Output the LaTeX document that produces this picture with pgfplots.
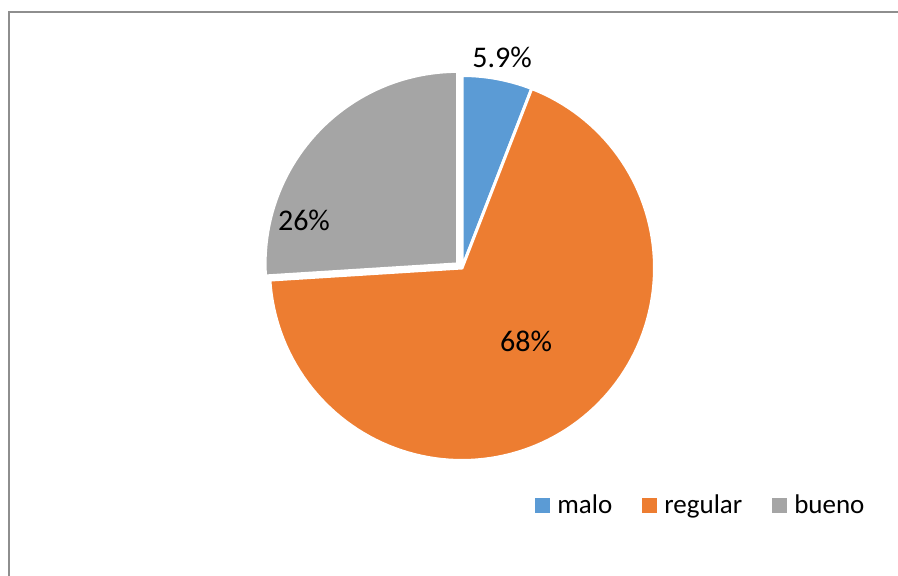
\documentclass[border=0pt]{standalone}
\usepackage{pgfplots}
\pgfplotsset{compat=1.18}
\usepackage{fontspec}
\setmainfont{Carlito}
\definecolor{cmalo}{HTML}{5B9BD5}
\definecolor{creg}{HTML}{ED7D31}
\definecolor{cbueno}{HTML}{A5A5A5}
\definecolor{cframe}{HTML}{8E8E8E}
% data (percent)
\def\vmalo{5.9}
\def\vregular{68.1}
\def\vbueno{26.0}
\begin{document}
\begin{tikzpicture}
\pgfmathsetmacro{\aA}{90}
\pgfmathsetmacro{\aB}{90-3.6*\vmalo}
\pgfmathsetmacro{\aC}{\aB-3.6*\vregular}
\pgfmathsetmacro{\aD}{\aC-3.6*\vbueno}
\path[use as bounding box] (0,0) rectangle (449pt,288pt);
\begin{axis}[width=449pt,height=288pt,scale only axis,
  xmin=0,xmax=898,ymin=0,ymax=576,hide axis,clip=false,
  legend columns=-1,
  legend style={at={(axis cs:535,70.5)},anchor=west,draw=none,fill=none,
    inner sep=0pt,font=\fontsize{13.5}{15}\selectfont,
    nodes={inner sep=0pt},
    /tikz/every odd column/.append style={column sep=3.5pt},
    /tikz/every even column/.append style={column sep=15pt}},
  legend image code/.code={\fill[#1,draw=none] (0pt,-3.75pt) rectangle (7.5pt,3.75pt);},
]
\addplot[fill=cmalo,draw=white,line width=1.5pt,domain=\aB:\aA,samples=20,variable=\t]
  ({462+192.5*cos(\t)},{308+192.5*sin(\t)}) -- (axis cs:462,308) -- cycle;
\addlegendentry{malo}
\addplot[fill=creg,draw=white,line width=1.5pt,domain=\aC:\aB,samples=120,variable=\t]
  ({462+192.5*cos(\t)},{308+192.5*sin(\t)}) -- (axis cs:462,308) -- cycle;
\addlegendentry{regular}
\addplot[fill=cbueno,draw=white,line width=1.5pt,domain=\aD:\aC,samples=50,variable=\t]
  ({457.6+192.5*cos(\t)},{312.1+192.5*sin(\t)}) -- (axis cs:457.6,312.1) -- cycle;
\addlegendentry{bueno}
\node[font=\fontsize{15}{17}\selectfont] at (axis cs:502,519) {5.9\%};
\node[font=\fontsize{15}{17}\selectfont] at (axis cs:304,356) {26\%};
\node[font=\fontsize{15}{17}\selectfont] at (axis cs:526,235) {68\%};
\draw[cframe,line width=1pt] (axis cs:8.5,0) |- (axis cs:898,563.5);
\end{axis}
\end{tikzpicture}
\end{document}
